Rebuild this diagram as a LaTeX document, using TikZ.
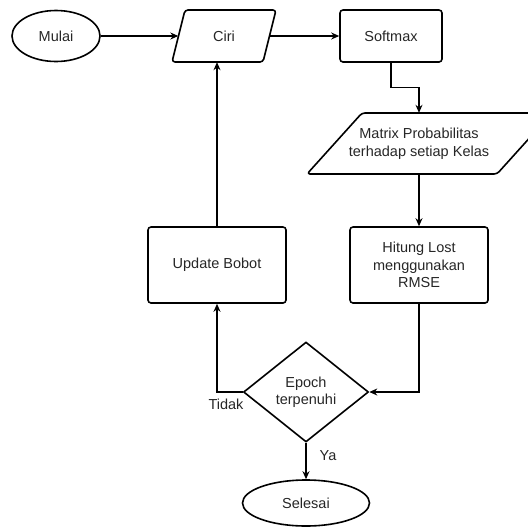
\documentclass[tikz,border=0pt]{standalone}
\usepackage{fontspec}
\setmainfont{Liberation Sans}
\usetikzlibrary{shapes.geometric,arrows.meta}
\tikzset{
  shape line/.style={line width=1.6pt, line join=round},
  boxnode/.style={draw, shape line, rectangle, rounded corners=3pt, align=center, inner sep=0pt},
  termnode/.style={draw, shape line, ellipse, inner sep=0pt},
  textonly/.style={align=center, inner sep=0pt},
  conn/.style={line width=1.1pt, -{Stealth[length=8pt,width=7pt]}},
  lbl/.style={inner sep=0pt, text=black!85}
}
\begin{document}
\begin{tikzpicture}[x=1pt, y=-1pt, font=\fontsize{14.5}{17.5}\selectfont, text=black!85]
\useasboundingbox (0,0) rectangle (528,528);
\clip (0,0) rectangle (528,528);
% shapes
\node[termnode, minimum width=88pt, minimum height=51pt] (mulai) at (56,36) {Mulai};
\draw[shape line, rounded corners=3pt] (185,10) -- (276,10) -- (263,62) -- (172,62) -- cycle;
\node[textonly, minimum width=91pt, minimum height=52pt] (ciri) at (224,36) {Ciri};
\node[boxnode, minimum width=102pt, minimum height=52pt] (softmax) at (391,36) {Softmax};
\draw[shape line, rounded corners=3pt] (362,113) -- (552,113) -- (497,174) -- (307,174) -- cycle;
\node[textonly, minimum width=120pt, minimum height=61pt] (matrix) at (419,143.5) {Matrix Probabilitas\\terhadap setiap Kelas};
\node[boxnode, minimum width=138pt, minimum height=76pt] (hitung) at (419,265) {Hitung Lost\\menggunakan\\RMSE};
\node[boxnode, minimum width=138pt, minimum height=76pt] (update) at (217,265) {Update Bobot};
\node[draw, shape line, diamond, aspect=1.25, minimum width=125pt, minimum height=100pt, inner sep=0pt, align=center] (epoch) at (306,392) {Epoch\\terpenuhi};
\node[termnode, minimum width=127pt, minimum height=46pt] (selesai) at (306,503) {Selesai};
% connectors
\draw[conn] (mulai.east) -- (ciri.west);
\draw[conn] (ciri.east) -- (softmax.west);
\draw[conn] (softmax.south) -- ++(0,25) -| (matrix.north);
\draw[conn] (matrix.south) -- (hitung.north);
\draw[conn] (hitung.south) |- (epoch.east);
\draw[conn] (epoch.west) -| (update.south);
\draw[conn] (update.north) -- (update.north |- ciri.south);
\draw[conn] (epoch.south) -- (selesai.north);
% labels
\node[lbl] (tidak) at (226,404) {Tidak};
\node[lbl] (ya) at (328,456) {Ya};
\end{tikzpicture}
\end{document}
